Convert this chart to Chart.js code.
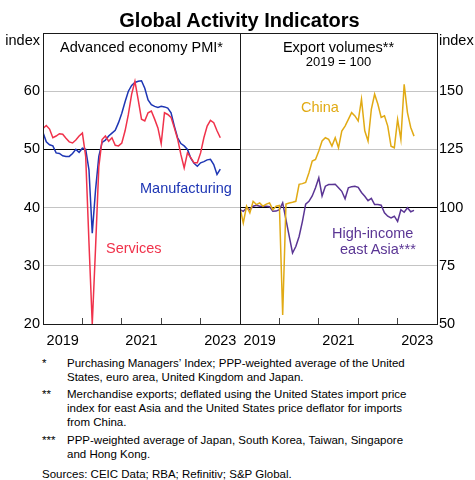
<!DOCTYPE html>
<html>
<head>
<meta charset="utf-8">
<script src="https://cdn.jsdelivr.net/npm/chart.js@4/dist/chart.umd.min.js"></script>
<style>
  body { margin: 0; background: #fff; }
  #wrap { position: relative; width: 475px; height: 480px; font-family: "Liberation Sans", Arial, sans-serif; color: #000; }
  #wrap canvas { position: absolute; top: 0; }
  .t { position: absolute; white-space: nowrap; font-size: 14.5px; line-height: 16px; }
  .fn { position: absolute; white-space: nowrap; font-size: 11.5px; line-height: 14px; }
</style>
</head>
<body>
<div id="wrap">
  <canvas id="pmiChart" width="241" height="345" style="left:0"></canvas>
  <canvas id="exportChart" width="236" height="345" style="left:239px"></canvas>

  <div class="t" style="left:2px;width:475px;top:8px;text-align:center;font-size:20px;line-height:24px;font-weight:bold">Global Activity Indicators</div>
  <div class="t" style="left:0;width:40px;top:32px;text-align:right">index</div>
  <div class="t" style="left:439px;top:32px">index</div>
  <div class="t" style="left:43px;width:197px;top:39px;text-align:center">Advanced economy PMI*</div>
  <div class="t" style="left:240px;width:197px;top:39px;text-align:center">Export volumes**</div>
  <div class="t" style="left:240px;width:197px;top:54px;text-align:center;font-size:13px;line-height:15px">2019 = 100</div>

  <div class="t" style="left:140px;top:180px;color:#1e36b4">Manufacturing</div>
  <div class="t" style="left:106px;top:240px;color:#f0324b">Services</div>
  <div class="t" style="left:301px;top:99px;color:#e1aa14">China</div>
  <div class="t" style="left:332px;top:225px;color:#5a3594">High-income</div>
  <div class="t" style="left:340px;top:241px;color:#5a3594">east Asia***</div>

  <div class="fn" style="left:42px;top:356px">*</div>
  <div class="fn" style="left:67px;top:356px">Purchasing Managers’ Index; PPP-weighted average of the United<br>States, euro area, United Kingdom and Japan.</div>
  <div class="fn" style="left:42px;top:387px">**</div>
  <div class="fn" style="left:67px;top:387px">Merchandise exports; deflated using the United States import price<br>index for east Asia and the United States price deflator for imports<br>from China.</div>
  <div class="fn" style="left:42px;top:433px">***</div>
  <div class="fn" style="left:67px;top:433px">PPP-weighted average of Japan, South Korea, Taiwan, Singapore<br>and Hong Kong.</div>
  <div class="fn" style="left:42px;top:467px">Sources: CEIC Data; RBA; Refinitiv; S&amp;P Global.</div>
</div>

<script>
// monthly, first value = Jan 2019
const manufacturing = [52.9, 51.3, 50.8, 50.6, 49.4, 49.3, 48.9, 48.8, 48.8, 49.3,
    50.0, 49.5, 50.2, 50.0, 46.5, 35.6, 43.0, 48.8, 51.2, 51.6,
    52.3, 52.8, 53.3, 54.6, 56.2, 58.2, 60.0, 61.0, 61.5, 61.7,
    61.8, 60.5, 58.5, 57.7, 57.4, 57.2, 57.4, 57.3, 57.1, 56.3,
    54.0, 52.0, 51.0, 50.6, 50.0, 48.5, 47.6, 47.1, 47.7, 47.9,
    48.2, 48.3, 47.4, 45.7, 46.6];
const services = [53.6, 54.1, 53.5, 52.0, 52.3, 52.7, 52.6, 51.9, 51.3, 51.1,
    51.6, 52.3, 52.8, 48.8, 34.0, 20.0, 33.0, 47.0, 51.7, 52.3,
    51.4, 52.0, 50.7, 50.6, 51.1, 53.2, 56.0, 59.5, 61.7, 58.5,
    55.2, 54.9, 56.3, 56.6, 55.2, 53.7, 51.0, 56.3, 56.0, 55.5,
    53.7, 51.8, 49.1, 46.8, 49.4, 48.6, 47.7, 47.7, 49.4, 52.0,
    54.0, 55.0, 54.6, 53.2, 52.0];
const china = [99.9, 93.4, 100.6, 97.7, 102.7, 101.3, 102.0, 100.6, 101.5, 102.0,
    99.1, 100.6, 100.9, 53.9, 101.5, 102.0, 102.3, 102.7, 110.0, 110.3,
    110.8, 115.0, 120.0, 120.7, 124.3, 128.6, 130.0, 129.3, 126.4, 130.0,
    125.7, 132.9, 135.0, 137.9, 140.8, 139.4, 137.2, 146.6, 133.0, 128.6,
    142.2, 148.7, 144.4, 138.7, 139.4, 135.0, 126.4, 125.7, 137.9, 129.3,
    153.0, 140.8, 134.4, 130.7];
const eastAsia = [99.1, 98.4, 99.9, 99.1, 100.6, 101.0, 100.6, 100.6, 100.6, 100.4,
    98.4, 98.5, 99.1, 102.0, 94.8, 87.6, 80.5, 83.3, 87.6, 94.0,
    101.5, 102.7, 105.0, 108.5, 112.8, 105.0, 109.2, 109.9, 109.9, 110.0,
    108.5, 107.0, 103.8, 108.5, 109.0, 109.2, 108.7, 106.5, 104.9, 103.0,
    104.0, 101.3, 101.3, 101.0, 97.8, 96.3, 95.6, 96.3, 94.1, 99.1,
    98.0, 99.9, 98.2, 98.8];

const firstYear = 2019;
const yearLabels = ['2019', '2021', '2023'];
const pmiTicks = [20, 30, 40, 50, 60];
const exportTicks = [50, 75, 100, 125, 150];

const FONT = { family: '"Liberation Sans", Arial, sans-serif', size: 14.5 };

function points(arr) {
    return arr.map(function (v, i) { return { x: i, y: v }; });
}

// month index of each label (mid-year), tick marks every 12 months
const labelAt = {};
yearLabels.forEach(function (y) { labelAt[(Number(y) - firstYear) * 12 + 6] = y; });

const framePlugin = {
    id: 'frame',
    afterDraw: function (chart) {
        const a = chart.chartArea, c = chart.ctx;
        c.save();
        c.strokeStyle = '#1a1a1a';
        c.lineWidth = 1;
        c.strokeRect(Math.round(a.left) + 0.5, Math.round(a.top) + 0.5,
            Math.round(a.right - a.left), Math.round(a.bottom - a.top));
        c.restore();
    }
};

function xAxis() {
    return {
        type: 'linear', min: 0, max: 60,
        afterBuildTicks: function (s) {
            const t = [];
            for (let m = 0; m <= 60; m += 6) t.push({ value: m });
            s.ticks = t;
        },
        afterFit: function (s) {
            s.height = 21;
            s.paddingLeft = 0;
            s.paddingRight = 0;
        },
        border: { display: false },
        grid: {
            drawOnChartArea: false, drawTicks: true, tickLength: -6,
            color: function (ctx) { return ctx.tick && ctx.tick.value % 12 === 0 ? '#444' : 'rgba(0,0,0,0)'; }
        },
        ticks: {
            autoSkip: false, maxRotation: 0, padding: 14, color: '#000', font: FONT,
            callback: function (v) { return labelAt[v] || ''; }
        }
    };
}

function yAxis(pos, min, max, ticks, zero, width) {
    return {
        position: pos, min: min, max: max,
        afterBuildTicks: function (s) { s.ticks = ticks.map(function (v) { return { value: v }; }); },
        afterFit: function (s) { s.width = width; },
        border: { display: false },
        grid: {
            drawTicks: false,
            color: function (ctx) { return ctx.tick && ctx.tick.value === zero ? '#000' : '#c4c4c4'; }
        },
        ticks: { padding: pos === 'left' ? 3 : 2, color: '#000', font: FONT }
    };
}

function line(data, color) {
    return { data: points(data), borderColor: color, borderWidth: 1.5, pointRadius: 0, tension: 0, fill: false };
}

function baseOptions(padding, y) {
    return {
        responsive: false, animation: false, devicePixelRatio: 1,
        layout: { padding: padding },
        plugins: { legend: { display: false }, tooltip: { enabled: false } },
        scales: { x: xAxis(), y: y }
    };
}

new Chart(document.getElementById('pmiChart'), {
    type: 'line',
    data: { datasets: [line(services, '#f0324b'), line(manufacturing, '#1e36b4')] },
    options: baseOptions({ top: 33, left: 0, right: 1, bottom: 0 },
        yAxis('left', 20, 70, pmiTicks, 50, 43)),
    plugins: [framePlugin]
});

new Chart(document.getElementById('exportChart'), {
    type: 'line',
    data: { datasets: [line(china, '#e1aa14'), line(eastAsia, '#5a3594')] },
    options: baseOptions({ top: 33, left: 1, right: 0, bottom: 0 },
        yAxis('right', 50, 175, exportTicks, 100, 38)),
    plugins: [framePlugin]
});
</script>
</body>
</html>
